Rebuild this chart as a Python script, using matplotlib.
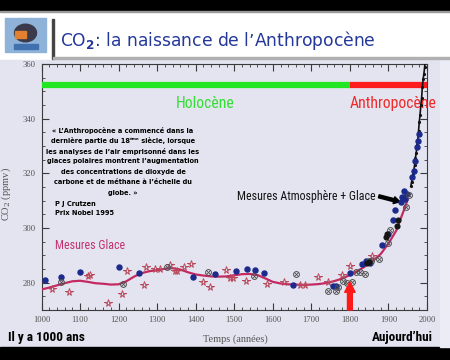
import os
import matplotlib
matplotlib.use("Agg")
import matplotlib.pyplot as plt
from matplotlib import font_manager as fm
from matplotlib.font_manager import FontProperties
from matplotlib.patches import Rectangle, Circle
from matplotlib.ticker import MultipleLocator

# ---------------- data ----------------
curve_years = [1000, 1020, 1040, 1060, 1080, 1100, 1120, 1140, 1160, 1180, 1200, 1220, 1240,
               1260, 1280, 1300, 1320, 1340, 1360, 1380, 1400, 1420, 1440, 1460, 1480, 1500,
               1520, 1540, 1560, 1580, 1600, 1620, 1640, 1660, 1680, 1700, 1720, 1740, 1760,
               1780, 1800, 1820, 1840, 1860, 1880, 1900, 1920, 1940, 1950]
curve_ppm = [277.5, 278.2, 279.0, 279.8, 280.5, 280.7, 280.3, 279.8, 279.6, 279.3, 279.4, 280.5,
             282.2, 283.5, 284.2, 284.6, 285.1, 285.3, 284.8, 283.8, 283.0, 282.6, 282.3, 282.2,
             282.3, 282.7, 283.1, 283.2, 282.8, 281.6, 280.3, 279.7, 279.4, 279.3, 279.2, 279.3,
             279.5, 279.9, 280.6, 281.5, 282.8, 284.3, 286.0, 288.0, 290.5, 294.3, 299.0, 306.5,
             310.5]

blue_years = [1010, 1051, 1101, 1200, 1252, 1393, 1451, 1505, 1533, 1553, 1576, 1652, 1756,
              1764, 1799, 1831, 1842, 1852, 1883, 1898, 1911, 1917, 1932, 1936, 1940, 1944,
              1947, 1962, 1966, 1969, 1973, 1976, 1978]
blue_ppm = [281.1, 282.0, 284.0, 285.7, 283.5, 281.9, 283.3, 284.1, 285.1, 284.5, 283.5, 279.0,
            278.9, 278.9, 283.5, 286.9, 287.8, 287.1, 293.8, 297.7, 302.9, 306.5, 309.5, 311.5,
            313.5, 310.5, 312.5, 318.5, 321.0, 324.5, 329.5, 332.0, 334.5]

star_years = [1028, 1071, 1120, 1126, 1173, 1209, 1222, 1265, 1271, 1295, 1308, 1334, 1347,
              1352, 1369, 1388, 1420, 1436, 1479, 1488, 1498, 1531, 1586, 1628, 1671, 1684,
              1718, 1744, 1779, 1799, 1857]
star_ppm = [277.7, 276.5, 282.3, 282.8, 272.6, 275.9, 284.1, 279.3, 285.9, 285.0, 285.0, 286.5,
            284.1, 284.1, 285.9, 286.9, 280.3, 278.4, 284.5, 281.7, 281.7, 280.7, 279.5, 280.3,
            279.3, 279.3, 282.1, 280.1, 282.9, 286.2, 289.9]

circ_years = [1051, 1211, 1326, 1431, 1550, 1661, 1744, 1764, 1768, 1781, 1792, 1805, 1816,
              1826, 1839, 1849, 1855, 1876, 1900, 1904, 1946, 1954]
circ_ppm = [280.3, 279.5, 285.9, 283.8, 282.3, 283.3, 276.8, 276.8, 278.5, 280.5, 279.9, 280.1,
            283.9, 283.9, 283.2, 287.8, 287.8, 288.8, 294.6, 299.3, 307.7, 312.0]

black_years = [1845, 1850, 1893, 1897, 1921, 1926]
black_ppm = [287.2, 287.6, 296.6, 297.8, 300.7, 302.9]

atm_years = [1958, 1960, 1962, 1964, 1966, 1968, 1970, 1972, 1974, 1976, 1978, 1980, 1982,
             1984, 1986, 1988, 1990, 1992, 1994, 1996, 1998]
atm_ppm = [315.3, 316.9, 318.5, 319.6, 321.4, 323.1, 325.7, 327.5, 330.2, 332.0, 335.4, 338.8,
           341.5, 344.9, 347.6, 351.7, 354.5, 356.5, 359.0, 362.6, 366.7]

period_bounds = [1000, 1800, 2000]
period_names = ["Holocène", "Anthropocène"]
period_level = 352.5

x_ticks = [1000, 1100, 1200, 1300, 1400, 1500, 1600, 1700, 1800, 1900, 2000]
y_ticks = [280, 300, 320, 340, 360]

quote_lines = ["« L’Anthropocène a commencé dans la",
               ("dernière partie du 18", "ème", " siècle, lorsque"),
               "les analyses de l’air emprisonné dans les",
               "glaces polaires montrent l’augmentation",
               "des concentrations de dioxyde de",
               "carbone et de méthane à l’échelle du",
               "globe. »"]

# ---------------- fonts ----------------
def find_font(prefs, fallback_weight):
    files = [f.fname for f in fm.fontManager.ttflist]
    for p in prefs:
        for fn in files:
            if os.path.basename(fn).lower().startswith(p):
                return FontProperties(fname=fn)
    return FontProperties(family="DejaVu Sans", stretch="condensed", weight=fallback_weight)

cond_reg = find_font(["liberationsansnarrow-regular", "robotocondensed-regular",
                      "dejavusanscondensed.ttf", "opensanscondensed-light"], "normal")
cond_bold = find_font(["liberationsansnarrow-bold.", "robotocondensed-bold.",
                       "dejavusanscondensed-bold.", "opensanscondensed-bold"], "bold")

W, H = 450, 360
fig = plt.figure(figsize=(W / 100, H / 100), dpi=100)
fig.patch.set_facecolor("white")

def P(x, y):
    return (x / W, 1 - y / H)

def rect(x0, y0, x1, y1, z=-5, **kw):
    fig.patches.append(Rectangle(P(x0, y1), (x1 - x0) / W, (y1 - y0) / H,
                                 transform=fig.transFigure, zorder=z, **kw))

# slide decorations
rect(0, 0, 450, 10.5, color="black")
rect(0, 10.5, 450, 12, color="#9a9a9a")
rect(0, 60, 450, 347, color="#e4e4f0")
rect(440, 60, 450, 347, color="#ececf6", z=-4)
rect(0, 347, 450, 360, color="black")
rect(52, 19, 53.5, 59, color="#444444", z=-3)
rect(53, 57, 450, 59, color="#b0b0b0", z=-3)
# logo
rect(5, 18, 46, 52, color="#8fb2d8", z=-3)
fig.patches.append(Circle(P(25.5, 33), 11 / W, transform=fig.transFigure,
                          color="#3a3a4a", zorder=-2))
rect(15, 31, 26, 38, color="#e08030", z=-1)
rect(14, 44, 38, 49, color="#4070b0", z=-1)

# title
fig.text(*P(60, 40), "CO$_\\mathbf{2}$: la naissance de l’Anthropocène", color="#24389a",
         fontsize=12.3, va="center", ha="left", family="DejaVu Sans",
         math_fontfamily="dejavusans")

# ---------------- axes ----------------
ax = fig.add_axes([41.5 / W, 1 - 310 / H, (427 - 41.5) / W, (310 - 64) / H])
ax.set_zorder(1)
ax.set_facecolor("none")
ax.set_xlim(1000, 2000)
ax.set_ylim(270, 360)
for s in ax.spines.values():
    s.set_color("#3a3a3a")
    s.set_linewidth(0.8)
ax.set_xticks(x_ticks)
ax.set_yticks(y_ticks)
ax.xaxis.set_minor_locator(MultipleLocator(20))
ax.yaxis.set_minor_locator(MultipleLocator(5))
ax.tick_params(which="both", direction="in", top=True, right=True, color="#3a3a3a",
               labelcolor="#555555", labelsize=6.2)
ax.tick_params(which="major", length=5, width=0.8, pad=4)
ax.tick_params(which="minor", length=2.5, width=0.6)
for lab in ax.get_xticklabels() + ax.get_yticklabels():
    lab.set_family("Liberation Serif")
ax.set_xlabel("Temps (années)", family="Liberation Serif", fontsize=7.5, color="#555555")
ax.xaxis.set_label_coords(0.502, -0.098)
ax.set_ylabel("CO$_2$ (ppmv)", family="Liberation Serif", fontsize=7.5, color="#555555",
              math_fontfamily="dejavuserif")
ax.yaxis.set_label_coords(-0.074, 0.47)

# period bars
ax.plot(period_bounds[0:2], [period_level] * 2, color="#22e622", lw=4.5,
        solid_capstyle="butt", zorder=3)
ax.plot(period_bounds[1:3], [period_level] * 2, color="#ff1c1c", lw=4.5,
        solid_capstyle="butt", zorder=3)
fp_big = cond_reg.copy()
fp_big.set_size(11.3)
ax.text(1425, 345.5, period_names[0], color="#35dd35", ha="center", va="center",
        fontproperties=fp_big)
ax.text(1800, 345.5, period_names[1], color="#ee2a2a", ha="left", va="center",
        fontproperties=fp_big, clip_on=False)

# data
ax.plot(curve_years, curve_ppm, color="#c42a62", lw=1.6, zorder=4)
ax.plot(atm_years, atm_ppm, color="#111111", lw=1.2, marker=".", ms=2.5, zorder=4)
ax.plot(star_years, star_ppm, ls="none", marker="*", ms=5.5, mfc="none", mec="#b8485a",
        mew=0.7, zorder=5)
ax.plot(blue_years, blue_ppm, ls="none", marker="o", ms=3.6, color="#1c2a8c", zorder=5)
ax.plot(circ_years, circ_ppm, ls="none", marker="o", ms=4.2, mfc="none", mec="#505050",
        mew=0.7, zorder=5)
ax.plot(circ_years, circ_ppm, ls="none", marker="x", ms=2.4, color="#505050", mew=0.6,
        zorder=5)
ax.plot(black_years, black_ppm, ls="none", marker="o", ms=3.4, color="#151515", zorder=5)

# annotations
fp_mid = cond_reg.copy()
fp_mid.set_size(8.6)
ax.text(1036, 293.5, "Mesures Glace", color="#c2306e", ha="left", va="center",
        fontproperties=fp_mid)
ax.text(1866, 311.6, "Mesures Atmosphère + Glace", color="#111111", ha="right",
        va="center", fontproperties=fp_mid)
ax.annotate("", xy=(1930, 309.6), xytext=(1875, 311.6),
            arrowprops=dict(arrowstyle="simple,head_length=0.45,head_width=0.5,tail_width=0.22",
                            color="black", shrinkA=0, shrinkB=0))
ax.annotate("", xy=(1800, 280.3), xytext=(1800, 270),
            arrowprops=dict(arrowstyle="simple,head_length=0.75,head_width=0.75,tail_width=0.35",
                            color="#ff1a1a", shrinkA=0, shrinkB=0), zorder=6)

# quote
q_cx = 123
q_y = [130, 140.5, 151, 161.5, 172, 182.5, 193]
q_size = 4.75
fig.canvas.draw()
rend = fig.canvas.get_renderer()
for line, yy in zip(quote_lines, q_y):
    if isinstance(line, str):
        fig.text(*P(q_cx, yy), line, ha="center", va="center", fontsize=q_size,
                 fontweight="bold", family="DejaVu Sans", color="black", zorder=3)
    else:
        a, sup, b = line
        ta = fig.text(0, 0, a, ha="left", va="center", fontsize=q_size, fontweight="bold",
                      family="DejaVu Sans", zorder=3)
        ts = fig.text(0, 0, sup, ha="left", va="center", fontsize=q_size * 0.6,
                      fontweight="bold", family="DejaVu Sans", zorder=3)
        tb = fig.text(0, 0, b, ha="left", va="center", fontsize=q_size, fontweight="bold",
                      family="DejaVu Sans", zorder=3)
        wa = ta.get_window_extent(rend).width
        ws = ts.get_window_extent(rend).width
        wb = tb.get_window_extent(rend).width
        x0 = q_cx - (wa + ws + wb) / 2
        ta.set_position(P(x0, yy))
        ts.set_position(P(x0 + wa + 0.3, yy - 2))
        tb.set_position(P(x0 + wa + ws, yy))
fig.text(*P(55, 204), "P J Crutzen", ha="left", va="center", fontsize=q_size,
         fontweight="bold", family="DejaVu Sans", zorder=3)
fig.text(*P(55, 213), "Prix Nobel 1995", ha="left", va="center", fontsize=q_size,
         fontweight="bold", family="DejaVu Sans", zorder=3)

# bottom labels
fp_bot = cond_bold.copy()
fp_bot.set_size(9.5)
fig.text(*P(8, 337), "Il y a 1000 ans", ha="left", va="center", fontproperties=fp_bot,
         color="black")
fig.text(*P(433, 337), "Aujourd’hui", ha="right", va="center", fontproperties=fp_bot,
         color="black")

fig.savefig("out.png", dpi=100, facecolor=fig.get_facecolor())
